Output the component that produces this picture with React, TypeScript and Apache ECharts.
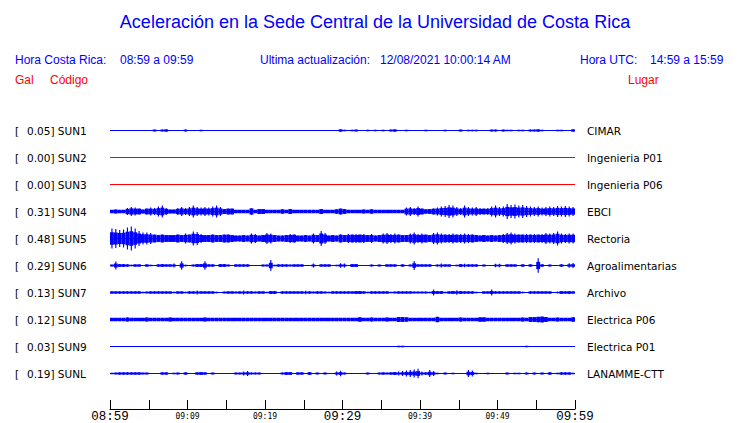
import React, { useEffect, useRef } from 'react';
import * as echarts from 'echarts';

const TITLE = 'Aceleración en la Sede Central de la Universidad de Costa Rica';
const LOCAL_LABEL = 'Hora Costa Rica:';
const LOCAL_RANGE = '08:59 a 09:59';
const UPDATE_LABEL = 'Ultima actualización:';
const UPDATE_VALUE = '12/08/2021 10:00:14 AM';
const UTC_LABEL = 'Hora UTC:';
const UTC_RANGE = '14:59 a 15:59';
const COL_GAL = 'Gal';
const COL_CODE = 'Código';
const COL_PLACE = 'Lugar';

const STATION_CODES = ['SUN1', 'SUN2', 'SUN3', 'SUN4', 'SUN5', 'SUN6', 'SUN7', 'SUN8', 'SUN9', 'SUNL'];
const STATION_PLACES = ['CIMAR', 'Ingenieria P01', 'Ingenieria P06', 'EBCI', 'Rectoria', 'Agroalimentarias', 'Archivo', 'Electrica P06', 'Electrica P01', 'LANAMME-CTT'];
const PEAK_GAL = [0.05, 0.0, 0.0, 0.31, 0.48, 0.29, 0.13, 0.12, 0.03, 0.19];
// continuous noise floor, hundredths of Gal
const CORE_AMP = [0, 0, 0, 7, 10, 0, 0, 7, 0, 0];

const TIME_LABELS = ['08:59', '09:09', '09:19', '09:29', '09:39', '09:49', '09:59'];
const MAJOR_LABELS = ['08:59', '09:29', '09:59'];
const SPAN_MIN = 60;
const BIN_MIN = 0.5;
const GAL_PER_ROW = 1.08;

// envelope peaks, hundredths of Gal, 30 s bins starting 08:59
const ENV_SUN1 = [
  0, 0, 0, 0, 0, 0, 0, 0, 0, 0, 0, 4, 0, 4, 5, 0, 0, 0, 0, 4,
  0, 0, 0, 3, 0, 0, 0, 0, 0, 0, 0, 0, 0, 0, 0, 0, 0, 0, 0, 0,
  0, 0, 0, 0, 0, 0, 0, 0, 0, 0, 0, 0, 0, 0, 0, 0, 0, 0, 0, 5,
  3, 0, 3, 4, 0, 0, 3, 0, 3, 0, 3, 0, 4, 5, 0, 0, 3, 0, 0, 0,
  0, 3, 0, 0, 0, 0, 3, 0, 0, 0, 4, 0, 3, 3, 3, 0, 0, 0, 4, 4,
  0, 4, 3, 3, 0, 3, 3, 0, 4, 4, 5, 3, 0, 0, 0, 3, 3, 0, 0, 5,
];
const ENV_SUN2: number[] = [];
const ENV_SUN3: number[] = [];
const ENV_SUN4 = [
  7, 8, 7, 7, 14, 18, 16, 12, 8, 12, 16, 14, 20, 24, 14, 8, 8, 14, 18, 14,
  18, 24, 18, 16, 18, 16, 20, 24, 18, 10, 12, 12, 7, 7, 7, 7, 13, 7, 10, 10,
  7, 7, 7, 7, 9, 7, 10, 7, 7, 7, 7, 7, 7, 7, 10, 7, 7, 7, 9, 12,
  10, 7, 7, 7, 7, 8, 7, 9, 7, 7, 7, 7, 7, 7, 7, 7, 16, 18, 14, 20,
  12, 9, 10, 12, 16, 20, 22, 26, 24, 18, 14, 24, 18, 16, 18, 14, 12, 14, 20, 24,
  18, 20, 30, 26, 28, 24, 26, 22, 20, 18, 20, 16, 18, 20, 18, 22, 20, 22, 20, 18,
];
const ENV_SUN5 = [
  40, 38, 34, 36, 44, 48, 40, 30, 24, 24, 22, 16, 14, 16, 14, 14, 14, 16, 14, 20,
  16, 28, 26, 18, 14, 14, 16, 14, 14, 16, 16, 14, 12, 12, 14, 12, 20, 18, 12, 14,
  22, 20, 14, 12, 12, 14, 18, 16, 12, 12, 14, 12, 20, 14, 30, 22, 12, 14, 12, 16,
  14, 18, 16, 18, 16, 18, 14, 18, 12, 14, 20, 22, 18, 20, 16, 14, 14, 20, 24, 18,
  20, 16, 14, 22, 24, 20, 16, 18, 20, 16, 18, 20, 18, 16, 14, 12, 14, 12, 14, 12,
  14, 18, 22, 24, 20, 16, 16, 18, 16, 18, 16, 18, 22, 20, 22, 28, 20, 18, 20, 20,
];
const ENV_SUN6 = [
  4, 16, 6, 6, 5, 3, 5, 5, 2, 5, 3, 2, 5, 6, 5, 5, 8, 2, 17, 3,
  2, 4, 6, 6, 17, 5, 5, 2, 6, 6, 4, 2, 5, 5, 5, 5, 2, 2, 2, 4,
  4, 22, 3, 5, 5, 5, 4, 5, 5, 5, 2, 2, 8, 2, 5, 5, 5, 2, 3, 9,
  8, 2, 6, 6, 2, 2, 2, 4, 2, 4, 2, 5, 5, 5, 2, 5, 2, 4, 18, 5,
  5, 5, 5, 2, 4, 8, 5, 5, 2, 3, 6, 7, 5, 5, 5, 2, 4, 2, 2, 7,
  7, 2, 5, 5, 5, 2, 5, 2, 5, 2, 29, 5, 2, 4, 2, 2, 5, 2, 9, 10,
];
const ENV_SUN7 = [
  5, 5, 5, 5, 5, 5, 5, 5, 3, 4, 5, 5, 5, 5, 5, 5, 3, 5, 5, 3,
  5, 5, 8, 5, 5, 5, 5, 3, 2, 4, 5, 5, 4, 5, 8, 5, 5, 4, 5, 5,
  3, 6, 6, 2, 5, 5, 5, 5, 5, 5, 7, 5, 4, 5, 5, 4, 3, 5, 5, 5,
  5, 5, 5, 6, 6, 5, 3, 5, 5, 5, 5, 5, 3, 4, 5, 5, 5, 5, 4, 4,
  4, 4, 3, 12, 6, 6, 3, 5, 6, 9, 6, 5, 5, 5, 3, 2, 5, 5, 12, 5,
  5, 5, 5, 5, 5, 5, 3, 2, 5, 5, 5, 5, 5, 5, 2, 3, 6, 5, 6, 5,
];
const ENV_SUN8 = [
  7, 7, 7, 7, 8, 7, 7, 7, 7, 8, 7, 7, 7, 7, 7, 8, 7, 7, 7, 7,
  7, 7, 7, 7, 8, 7, 7, 7, 7, 7, 7, 7, 7, 7, 7, 7, 7, 7, 7, 7,
  7, 7, 7, 7, 7, 7, 7, 7, 7, 7, 7, 7, 7, 7, 7, 7, 7, 7, 7, 7,
  7, 7, 7, 7, 9, 7, 7, 8, 7, 7, 7, 8, 7, 7, 10, 10, 9, 7, 7, 7,
  7, 7, 7, 7, 11, 7, 7, 7, 7, 7, 8, 7, 7, 7, 7, 9, 9, 7, 7, 7,
  7, 7, 7, 7, 7, 7, 8, 7, 10, 10, 11, 12, 10, 7, 7, 8, 7, 7, 7, 9,
];
const ENV_SUN9 = [
  0, 0, 0, 0, 0, 0, 0, 0, 0, 0, 0, 0, 0, 0, 0, 0, 0, 0, 0, 0,
  0, 0, 0, 0, 0, 0, 0, 0, 0, 0, 0, 0, 0, 0, 0, 0, 0, 0, 0, 0,
  0, 0, 0, 0, 0, 0, 0, 0, 0, 0, 0, 0, 0, 0, 0, 0, 0, 0, 0, 0,
  0, 0, 0, 0, 0, 0, 0, 0, 0, 0, 0, 0, 0, 0, 3, 3, 0, 0, 0, 0,
  0, 0, 0, 0, 0, 0, 0, 0, 0, 0, 0, 0, 0, 0, 0, 0, 0, 0, 0, 0,
  0, 0, 0, 0, 0, 0, 0, 3, 0, 0, 0, 0, 0, 0, 0, 0, 0, 0, 0, 0,
];
const ENV_SUNL = [
  3, 4, 5, 5, 5, 5, 5, 5, 4, 4, 0, 0, 0, 5, 5, 2, 3, 4, 0, 5,
  0, 2, 5, 6, 5, 2, 4, 0, 0, 2, 0, 2, 4, 4, 8, 10, 4, 4, 4, 0,
  0, 0, 0, 2, 4, 6, 6, 2, 5, 5, 2, 6, 2, 4, 2, 4, 2, 0, 8, 11,
  4, 0, 2, 0, 0, 2, 4, 0, 2, 4, 5, 4, 5, 6, 8, 10, 12, 14, 16, 19,
  8, 5, 14, 10, 3, 2, 4, 2, 3, 0, 2, 0, 14, 12, 3, 0, 0, 3, 0, 0,
  0, 0, 4, 0, 3, 3, 0, 4, 0, 4, 0, 4, 2, 5, 2, 3, 5, 5, 5, 3,
];

const ENVELOPES = [ENV_SUN1, ENV_SUN2, ENV_SUN3, ENV_SUN4, ENV_SUN5, ENV_SUN6, ENV_SUN7, ENV_SUN8, ENV_SUN9, ENV_SUNL];

const BLUE = '#0000ff';
const RED = '#ff0000';
const traceColor = (row: number) => (PEAK_GAL[row] > 0 ? BLUE : RED);

export default function App() {
  const ref = useRef<HTMLDivElement>(null);

  useEffect(() => {
    if (!ref.current) return;
    const chart = echarts.init(ref.current, null, { renderer: 'svg' });

    const envData: number[][] = [];
    ENVELOPES.forEach((env, row) => {
      env.forEach((amp, i) => {
        if (amp > 0) envData.push([i * BIN_MIN, row, amp, CORE_AMP[row]]);
      });
    });
    const rows = STATION_CODES.map((_, i) => [i]);

    const gridTop = 117;
    const gridHeight = 292;
    const rowPx = 27;
    const yMax = gridHeight / rowPx - 0.5;

    const font = (size: number, fam: string) => `${size}px "${fam}"`;

    const option: any = {
      animation: false,
      backgroundColor: '#ffffff',
      grid: { left: 110, right: 165, top: gridTop, height: gridHeight, containLabel: false, outerBoundsMode: 'none' },
      xAxis: {
        type: 'value',
        min: 0,
        max: SPAN_MIN,
        interval: 5,
        axisLine: { show: true, onZero: false, lineStyle: { color: '#000', width: 1 } },
        axisTick: { show: true, inside: true, length: 9, lineStyle: { color: '#000', width: 1 } },
        splitLine: { show: false },
        axisLabel: {
          margin: 1,
          showMinLabel: true,
          showMaxLabel: true,
          hideOverlap: false,
          formatter: (v: number) => {
            if (Math.round(v) % 10 !== 0) return '';
            const s = TIME_LABELS[Math.round(v) / 10];
            if (!s) return '';
            return MAJOR_LABELS.includes(s) ? `{big|${s}}` : `{small|${s}}`;
          },
          rich: {
            big: { fontFamily: 'Liberation Mono', fontSize: 12.5, lineHeight: 14, color: '#000' },
            small: { fontFamily: 'DejaVu Sans Mono', fontSize: 8, lineHeight: 12, color: '#000' },
          },
        },
      },
      yAxis: { type: 'value', inverse: true, min: -0.5, max: yMax, show: false },
      graphic: [
        { type: 'text', x: 375, y: 22, style: { text: TITLE, fill: BLUE, font: font(18, 'Liberation Sans'), align: 'center', verticalAlign: 'middle' } },
        { type: 'text', x: 15, y: 60, style: { text: LOCAL_LABEL, fill: BLUE, font: font(12, 'Liberation Sans'), align: 'left', verticalAlign: 'middle' } },
        { type: 'text', x: 120, y: 60, style: { text: LOCAL_RANGE, fill: BLUE, font: font(12, 'Liberation Sans'), align: 'left', verticalAlign: 'middle' } },
        { type: 'text', x: 260, y: 60, style: { text: UPDATE_LABEL, fill: BLUE, font: font(12, 'Liberation Sans'), align: 'left', verticalAlign: 'middle' } },
        { type: 'text', x: 380, y: 60, style: { text: UPDATE_VALUE, fill: BLUE, font: font(12, 'Liberation Sans'), align: 'left', verticalAlign: 'middle' } },
        { type: 'text', x: 580, y: 60, style: { text: UTC_LABEL, fill: BLUE, font: font(12, 'Liberation Sans'), align: 'left', verticalAlign: 'middle' } },
        { type: 'text', x: 650, y: 60, style: { text: UTC_RANGE, fill: BLUE, font: font(12, 'Liberation Sans'), align: 'left', verticalAlign: 'middle' } },
        { type: 'text', x: 15, y: 80, style: { text: COL_GAL, fill: RED, font: font(12, 'Liberation Sans'), align: 'left', verticalAlign: 'middle' } },
        { type: 'text', x: 50, y: 80, style: { text: COL_CODE, fill: RED, font: font(12, 'Liberation Sans'), align: 'left', verticalAlign: 'middle' } },
        { type: 'text', x: 628, y: 80, style: { text: COL_PLACE, fill: RED, font: font(12, 'Liberation Sans'), align: 'left', verticalAlign: 'middle' } },
      ],
      series: [
        {
          type: 'custom',
          name: 'baseline',
          silent: true,
          clip: false,
          data: rows,
          encode: { x: -1, y: 0 },
          renderItem: (_p: any, api: any) => {
            const row = api.value(0);
            const a = api.coord([0, row]);
            const b = api.coord([SPAN_MIN, row]);
            return {
              type: 'line',
              shape: { x1: a[0], y1: a[1], x2: b[0], y2: b[1] },
              style: { stroke: traceColor(row), lineWidth: 1 },
            };
          },
        },
        {
          type: 'custom',
          name: 'envelope',
          silent: true,
          clip: false,
          data: envData,
          encode: { x: 0, y: 1 },
          renderItem: (_p: any, api: any) => {
            const t = api.value(0);
            const row = api.value(1);
            const amp = api.value(2);
            const core = api.value(3);
            const a = api.coord([t, row]);
            const b = api.coord([t + BIN_MIN, row]);
            const k = api.size([0, 1])[1] / 100 / GAL_PER_ROW;
            const w = b[0] - a[0];
            const excess = amp - core;
            const frac = excess <= 6 ? 0.9 : 0.5;
            const mid = core + excess * frac;
            const color = traceColor(row);
            const children: any[] = [];
            if (mid > 0) {
              children.push({ type: 'rect', shape: { x: a[0], y: a[1] - mid * k, width: w, height: 2 * mid * k }, style: { fill: color } });
            }
            if (amp > mid) {
              children.push({ type: 'rect', shape: { x: a[0] + w * 0.35, y: a[1] - amp * k, width: w * 0.3, height: 2 * amp * k }, style: { fill: color } });
            }
            return { type: 'group', children };
          },
        },
        {
          type: 'custom',
          name: 'labels',
          silent: true,
          clip: false,
          data: rows,
          encode: { x: -1, y: 0 },
          renderItem: (_p: any, api: any) => {
            const row = api.value(0);
            const a = api.coord([0, row]);
            const b = api.coord([SPAN_MIN, row]);
            const st = { fill: '#000', font: font(10.5, 'DejaVu Sans'), align: 'left', verticalAlign: 'middle' };
            return {
              type: 'group',
              children: [
                { type: 'text', x: a[0] - 95, y: a[1], style: { ...st, text: '[' } },
                { type: 'text', x: a[0] - 83, y: a[1], style: { ...st, text: `${PEAK_GAL[row].toFixed(2)}] ${STATION_CODES[row]}` } },
                { type: 'text', x: b[0] + 12, y: b[1], style: { ...st, text: STATION_PLACES[row] } },
              ],
            };
          },
        },
      ],
    };

    chart.setOption(option);
    return () => chart.dispose();
  }, []);

  return <div ref={ref} style={{ position: 'fixed', left: 0, top: 0, width: 740, height: 423, background: '#fff' }} />;
}
